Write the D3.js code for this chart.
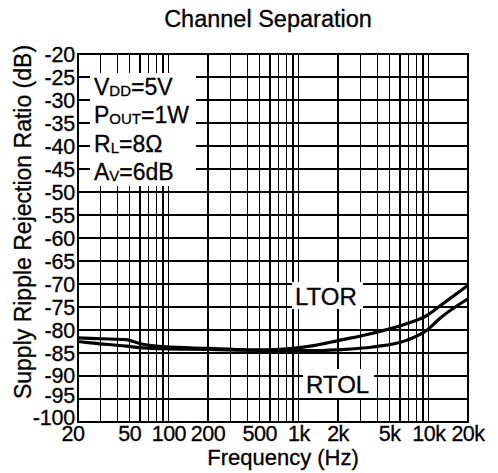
<!DOCTYPE html>
<html>
<head>
<meta charset="utf-8">
<script src="https://cdn.jsdelivr.net/npm/d3@7"></script>
<style>
  body { margin: 0; background: #fff; }
  svg { display: block; }
  text { font-family: Arial, "Liberation Sans", sans-serif; fill: #000; stroke: #000; stroke-width: 0.3px; }
</style>
</head>
<body>
<svg width="498" height="473"></svg>
<script>
var svg = d3.select("svg"),
    width = +svg.attr("width"),
    height = +svg.attr("height");

var margin = { top: 54, right: 30, bottom: 51, left: 78 };
var w = width - margin.left - margin.right,
    h = height - margin.top - margin.bottom;

// Data (Hz, dB)
var ltorFreq = [20, 30, 47, 55, 63, 90, 200, 400, 600, 900, 1300, 2000, 3700, 6800, 9700, 12000, 20000];
var ltorDb   = [-81.7, -81.9, -82.1, -82.6, -83.1, -83.6, -84.0, -84.3, -84.3, -84.0, -83.4, -82.3, -80.7, -78.6, -76.8, -74.9, -70.3];
var rtolFreq = [20, 25, 47, 63, 100, 200, 400, 800, 1300, 2000, 3700, 6800, 9700, 12000, 20000];
var rtolDb   = [-82.5, -82.8, -83.5, -83.9, -84.1, -84.2, -84.4, -84.5, -84.5, -84.3, -83.7, -82.2, -80.0, -77.6, -73.2];

var xTicks = [20, 50, 100, 200, 500, 1000, 2000, 5000, 10000, 20000];
var xTickLabels = ["20", "50", "100", "200", "500", "1k", "2k", "5k", "10k", "20k"];
var yTicks = d3.range(-20, -101, -5);

var x = d3.scaleLog().domain([20, 20000]).range([0, w]);
var y = d3.scaleLinear().domain([-100, -20]).range([h, 0]);

// vertical grid at every 1-2-...-9 step
var xGrid = [];
[10, 100, 1000, 10000].forEach(function (dec) {
  for (var i = 1; i < 10; i++) {
    var v = dec * i;
    if (v > 20 && v < 20000) xGrid.push(v);
  }
});

var g = svg.append("g").attr("transform", "translate(" + margin.left + "," + margin.top + ")");

g.append("g").attr("class", "xgrid")
  .selectAll("line").data(xGrid).enter().append("line")
  .attr("x1", function (d) { return x(d); })
  .attr("x2", function (d) { return x(d); })
  .attr("y1", 0).attr("y2", h)
  .attr("stroke", "#000").attr("stroke-width", 1.2)
  .attr("shape-rendering", "crispEdges");

g.append("g").attr("class", "ygrid")
  .selectAll("line").data(yTicks).enter().append("line")
  .attr("x1", 0).attr("x2", w)
  .attr("y1", function (d) { return y(d); })
  .attr("y2", function (d) { return y(d); })
  .attr("stroke", "#000").attr("stroke-width", 1.2)
  .attr("shape-rendering", "crispEdges");

// white label boxes over the grid
function whiteBox(x0, y0, x1, y1) {
  svg.append("rect")
    .attr("x", x0).attr("y", y0)
    .attr("width", x1 - x0).attr("height", y1 - y0)
    .attr("fill", "#fff");
}
whiteBox(90, 73, 196, 186);
whiteBox(292, 282, 363, 309);
whiteBox(303, 369, 374, 398);

// curves
var line = d3.line()
  .x(function (d) { return x(d[0]); })
  .y(function (d) { return y(d[1]); })
  .curve(d3.curveMonotoneX);

[d3.zip(ltorFreq, ltorDb), d3.zip(rtolFreq, rtolDb)].forEach(function (s) {
  g.append("path")
    .datum(s)
    .attr("d", line)
    .attr("fill", "none")
    .attr("stroke", "#000")
    .attr("stroke-width", 3.2)
    .attr("stroke-linejoin", "round");
});

// frame
g.append("rect")
  .attr("width", w).attr("height", h)
  .attr("fill", "none").attr("stroke", "#000").attr("stroke-width", 2);

// tick labels (bottom ones sit a little high, as in the original)
var yNudge = { "-90": -1, "-95": -4, "-100": -5 };
g.append("g")
  .selectAll("text").data(yTicks).enter().append("text")
  .attr("x", -3)
  .attr("y", function (d) { return y(d) + (yNudge[d] || 0); })
  .attr("dy", "0.36em")
  .attr("text-anchor", "end")
  .style("font-size", "21.5px")
  .style("letter-spacing", "-0.2px")
  .text(function (d) { return d; });

g.append("g")
  .selectAll("text").data(xTicks).enter().append("text")
  .attr("x", function (d, i) { return i === 0 ? x(d) - 5 : x(d); })
  .attr("y", h + 19)
  .attr("text-anchor", "middle")
  .style("font-size", "21.5px")
  .style("letter-spacing", "-0.5px")
  .text(function (d, i) { return xTickLabels[i]; });

// titles
svg.append("text")
  .attr("x", 268).attr("y", 27)
  .attr("text-anchor", "middle")
  .style("font-size", "23.5px")
  .text("Channel Separation");

svg.append("text")
  .attr("x", 283).attr("y", 465)
  .attr("text-anchor", "middle")
  .style("font-size", "22px")
  .text("Frequency (Hz)");

svg.append("text")
  .attr("transform", "translate(31,222) rotate(-90)")
  .attr("text-anchor", "middle")
  .style("font-size", "23px")
  .text("Supply Ripple Rejection Ratio (dB)");

// conditions
var condMain = ["V", "P", "R", "A"];
var condSub = ["DD", "OUT", "L", "V"];
var condRest = ["=5V", "=1W", "=8\u03A9", "=6dB"];
var condY = [95, 123, 152, 180];

condMain.forEach(function (m, i) {
  var t = svg.append("text")
    .attr("x", 94).attr("y", condY[i])
    .style("font-size", "23px");
  t.append("tspan").text(m);
  t.append("tspan").style("font-size", "15px").attr("dy", 1).text(condSub[i]);
  t.append("tspan").attr("dy", -1).text(condRest[i]);
});

svg.append("text").attr("x", 295).attr("y", 305)
  .style("font-size", "24px").text("LTOR");
svg.append("text").attr("x", 306).attr("y", 393)
  .style("font-size", "24px").text("RTOL");
</script>
</body>
</html>
